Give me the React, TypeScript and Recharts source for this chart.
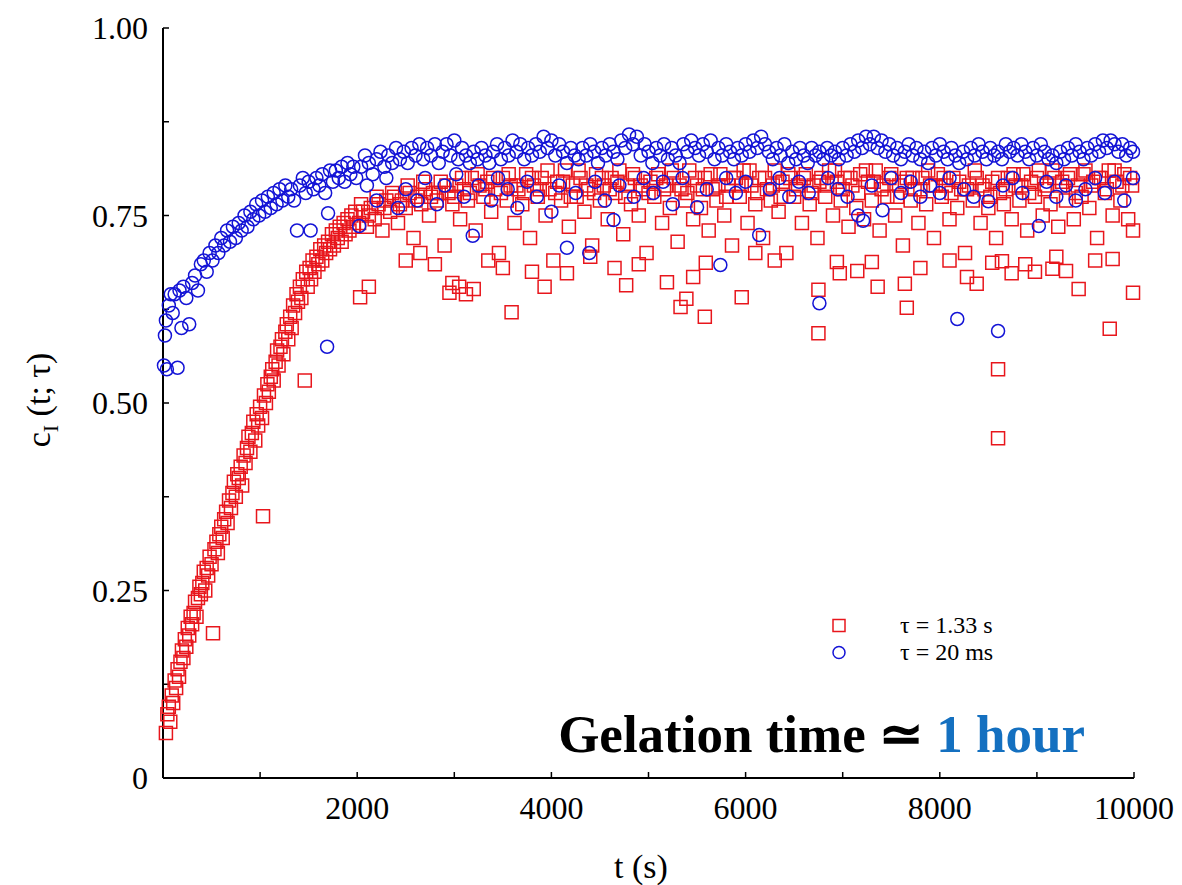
import {
  ScatterChart, Scatter, XAxis, YAxis, Legend, Customized,
} from "recharts";

// ---- data: [t (s), c_I] ----
const redRise: [number, number][] = [
  [30, .06], [45, .085], [60, .095], [75, .075], [90, .11], [105, .1], [120, .13], [135, .12],
  [150, .145], [165, .135], [180, .155], [195, .17], [210, .16], [225, .185], [240, .175], [255, .2],
  [270, .19], [285, .215], [300, .205], [315, .22], [330, .235], [345, .215], [360, .24], [375, .255],
  [390, .245], [405, .26], [420, .275], [435, .25], [450, .28], [465, .27], [480, .295], [500, .285],
  [515, .193], [530, .305], [550, .315], [565, .3], [580, .325], [600, .335], [615, .32], [630, .345],
  [650, .355], [665, .34], [680, .37], [700, .36], [715, .38], [730, .395], [750, .375], [765, .405],
  [780, .4], [800, .415], [815, .39], [830, .43], [850, .42], [865, .44], [880, .455], [900, .435],
  [915, .46], [930, .475], [950, .45], [965, .485], [980, .47], [1000, .495], [1020, .48], [1030, .349],
  [1040, .51], [1060, .5], [1075, .525], [1090, .515], [1110, .535], [1125, .545], [1140, .53], [1160, .555],
  [1175, .57], [1190, .55], [1210, .575], [1225, .585], [1240, .565], [1260, .595], [1275, .605], [1290, .585],
  [1310, .615], [1325, .6], [1340, .63], [1360, .62], [1375, .645], [1390, .635], [1410, .655], [1425, .64],
  [1440, .665], [1460, .53], [1475, .675], [1490, .655], [1510, .68], [1525, .665], [1540, .69], [1560, .675],
  [1580, .695], [1600, .685], [1620, .705], [1640, .69], [1660, .71], [1680, .7], [1700, .715], [1720, .705],
  [1740, .725], [1760, .71], [1780, .73], [1800, .72], [1820, .735], [1840, .715], [1860, .74], [1880, .725],
  [1900, .745], [1920, .73], [1940, .75], [1960, .735], [1980, .755],
];

const redCore: [number, number][] = [
  [2020, .74], [2060, .755], [2100, .735], [2140, .76], [2180, .745], [2220, .765], [2260, .73], [2300, .77],
  [2340, .755], [2380, .775], [2420, .74], [2460, .77], [2500, .76], [2540, .78], [2580, .72], [2620, .775],
  [2660, .765], [2700, .785], [2740, .75], [2780, .78], [2820, .77], [2860, .795], [2900, .71], [2940, .78],
  [2980, .765], [3020, .79], [3060, .745], [3100, .785], [3140, .77], [3180, .8], [3220, .73], [3260, .79],
  [3300, .775], [3340, .795], [3380, .755], [3420, .785], [3460, .7], [3500, .8], [3540, .77], [3580, .79],
  [3620, .74], [3660, .785], [3700, .765], [3740, .805], [3780, .72], [3820, .79], [3860, .775], [3900, .8],
  [3940, .75], [3980, .785], [4020, .69], [4060, .795], [4100, .77], [4140, .81], [4180, .735], [4220, .79],
  [4260, .775], [4300, .8], [4340, .755], [4380, .785], [4420, .71], [4460, .805], [4500, .77], [4540, .79],
  [4580, .745], [4620, .8], [4660, .78], [4700, .81], [4740, .725], [4780, .79], [4820, .765], [4860, .8],
  [4900, .75], [4940, .785], [4980, .7], [5020, .795], [5060, .775], [5100, .805], [5140, .74], [5180, .79],
  [5220, .76], [5260, .8], [5300, .715], [5340, .785], [5380, .77], [5420, .81], [5460, .745], [5500, .79],
  [5540, .76], [5580, .8], [5620, .73], [5660, .785], [5700, .77], [5740, .805], [5780, .75], [5820, .79],
  [5860, .71], [5900, .8], [5940, .775], [5980, .81], [6020, .74], [6060, .79], [6100, .765], [6140, .8],
  [6180, .72], [6220, .785], [6260, .77], [6300, .81], [6340, .755], [6380, .795], [6420, .7], [6460, .8],
  [6500, .775], [6540, .79], [6580, .74], [6620, .805], [6660, .765], [6700, .79], [6740, .72], [6780, .8],
  [6820, .775], [6860, .81], [6900, .75], [6940, .795], [6980, .77], [7020, .8], [7060, .735], [7100, .79],
  [7140, .76], [7180, .805], [7220, .745], [7260, .795], [7300, .77], [7340, .81], [7380, .73], [7420, .79],
  [7460, .775], [7500, .805], [7540, .75], [7580, .79], [7620, .71], [7660, .8], [7700, .77], [7740, .785],
  [7780, .74], [7820, .8], [7860, .765], [7900, .79], [7940, .72], [7980, .805], [8020, .775], [8060, .79],
  [8100, .745], [8140, .8], [8180, .76], [8220, .785], [8260, .7], [8300, .79], [8340, .77], [8380, .8],
  [8420, .74], [8460, .785], [8500, .76], [8540, .795], [8580, .72], [8620, .78], [8660, .765], [8700, .8],
  [8740, .745], [8780, .79], [8820, .77], [8860, .805], [8900, .73], [8940, .795], [8980, .775], [9020, .81],
  [9060, .75], [9100, .79], [9140, .765], [9180, .8], [9220, .735], [9260, .795], [9300, .77], [9340, .805],
  [9380, .745], [9420, .79], [9460, .775], [9500, .81], [9540, .76], [9580, .795], [9620, .72], [9660, .8],
  [9700, .78], [9740, .81], [9780, .75], [9820, .795], [9860, .77], [9900, .805], [9940, .745], [9980, .79],
];

const redCore2: [number, number][] = [
  [2040, .765], [2120, .75], [2200, .775], [2280, .76], [2360, .78], [2440, .765], [2520, .79], [2600, .77],
  [2680, .795], [2760, .775], [2840, .78], [2920, .79], [3000, .775], [3080, .8], [3160, .78], [3240, .805],
  [3320, .785], [3400, .8], [3480, .78], [3560, .805], [3640, .79], [3720, .78], [3800, .8], [3880, .785],
  [3960, .81], [4040, .78], [4120, .795], [4200, .775], [4280, .81], [4360, .79], [4440, .78], [4520, .8],
  [4600, .785], [4680, .795], [4760, .775], [4840, .805], [4920, .79], [5000, .78], [5080, .8], [5160, .785],
  [5240, .81], [5320, .79], [5400, .78], [5480, .8], [5560, .785], [5640, .805], [5720, .79], [5800, .775],
  [5880, .8], [5960, .79], [6040, .81], [6120, .78], [6200, .8], [6280, .79], [6360, .775], [6440, .805],
  [6520, .785], [6600, .8], [6680, .78], [6760, .795], [6840, .79], [6920, .81], [7000, .785], [7080, .8],
  [7160, .78], [7240, .81], [7320, .795], [7400, .785], [7480, .8], [7560, .775], [7640, .795], [7720, .8],
  [7800, .785], [7880, .81], [7960, .79], [8040, .8], [8120, .78], [8200, .795], [8280, .785], [8360, .81],
  [8440, .79], [8520, .775], [8600, .8], [8680, .785], [8760, .805], [8840, .79], [8920, .78], [9000, .8],
  [9080, .785], [9160, .81], [9240, .79], [9320, .8], [9400, .78], [9480, .805], [9560, .79], [9640, .8],
  [9720, .785], [9800, .81], [9880, .79], [9960, .8],
];

const redLow: [number, number][] = [
  [2030, .641], [2120, .655], [2950, .647], [3050, .655], [3120, .645], [3200, .652], [2980, .66], [3590, .621],
  [3930, .655], [4160, .673], [4770, .657], [4650, .68], [5190, .661], [5330, .628], [5390, .639], [5460, .668],
  [5580, .615], [5590, .687], [5960, .641], [6750, .593], [6750, .651], [6940, .688], [6970, .673], [7150, .676],
  [7300, .688], [7360, .655], [7640, .659], [7660, .627], [8280, .668], [8380, .659], [8540, .687], [8640, .689],
  [8600, .545], [8600, .453], [8740, .673], [8880, .685], [8980, .675], [9160, .679], [9300, .676], [9430, .652],
  [9750, .599], [9780, .692], [9990, .647], [9990, .73], [2500, .69], [2650, .7], [2800, .685], [3350, .69],
  [3500, .68], [3800, .675], [4400, .695], [4900, .685], [6100, .7], [6300, .69], [7800, .68], [8100, .69],
  [9200, .695], [9600, .69],
];

const blueRise: [number, number][] = [
  [10, .55], [20, .59], [30, .61], [40, .545], [60, .63], [80, .645], [100, .62], [120, .645],
  [150, .547], [170, .65], [190, .6], [210, .655], [240, .64], [270, .605], [300, .66], [330, .67],
  [360, .65], [390, .685], [420, .69], [450, .675], [480, .7], [510, .69], [540, .71], [570, .7],
  [600, .72], [630, .71], [660, .73], [690, .715], [720, .735], [750, .72], [780, .74], [810, .73],
  [840, .75], [870, .735], [900, .755], [930, .745], [960, .765], [990, .75], [1020, .77], [1050, .755],
  [1080, .775], [1110, .76], [1140, .78], [1170, .765], [1200, .785], [1230, .77], [1260, .79], [1290, .775],
  [1320, .785], [1350, .77], [1380, .73], [1410, .79], [1440, .8], [1470, .78], [1500, .795], [1520, .73],
  [1550, .785], [1580, .8], [1610, .79], [1640, .805], [1670, .78], [1690, .575], [1700, .753], [1720, .81],
  [1750, .795], [1780, .81], [1810, .8], [1840, .815], [1870, .795], [1900, .82], [1930, .805], [1960, .815],
  [1990, .8], [2020, .736],
];

const blueBand: [number, number][] = [
  [2040, .815], [2080, .83], [2120, .82], [2160, .805], [2200, .825], [2240, .835], [2280, .815], [2320, .83],
  [2360, .82], [2400, .84], [2440, .825], [2480, .835], [2520, .82], [2560, .84], [2600, .83], [2640, .845],
  [2680, .825], [2720, .84], [2760, .83], [2800, .845], [2840, .82], [2880, .835], [2920, .845], [2960, .83],
  [3000, .85], [3040, .825], [3080, .84], [3120, .83], [3160, .82], [3200, .835], [3240, .825], [3280, .84],
  [3320, .83], [3360, .82], [3400, .835], [3440, .845], [3480, .825], [3520, .84], [3560, .83], [3600, .85],
  [3640, .835], [3680, .845], [3720, .825], [3760, .84], [3800, .83], [3840, .845], [3880, .835], [3920, .855],
  [3960, .84], [4000, .85], [4040, .83], [4080, .845], [4120, .835], [4160, .82], [4200, .84], [4240, .83],
  [4280, .825], [4320, .84], [4360, .83], [4400, .845], [4440, .835], [4480, .82], [4520, .84], [4560, .83],
  [4600, .845], [4640, .835], [4680, .825], [4720, .85], [4760, .84], [4800, .858], [4840, .845], [4880, .855],
  [4920, .83], [4960, .845], [5000, .835], [5040, .82], [5080, .84], [5120, .83], [5160, .845], [5200, .825],
  [5240, .84], [5280, .83], [5320, .82], [5360, .845], [5400, .835], [5440, .85], [5480, .84], [5520, .83],
  [5560, .845], [5600, .835], [5640, .85], [5680, .825], [5720, .84], [5760, .83], [5800, .845], [5840, .835],
  [5880, .825], [5920, .84], [5960, .83], [6000, .845], [6040, .835], [6080, .85], [6120, .84], [6160, .855],
  [6200, .845], [6240, .835], [6280, .825], [6320, .84], [6360, .83], [6400, .845], [6440, .82], [6480, .835],
  [6520, .825], [6560, .84], [6600, .83], [6640, .82], [6680, .84], [6720, .83], [6760, .835], [6800, .825],
  [6840, .84], [6880, .83], [6920, .835], [6960, .825], [7000, .84], [7040, .83], [7080, .845], [7120, .835],
  [7160, .85], [7200, .84], [7240, .855], [7280, .845], [7320, .855], [7360, .84], [7400, .85], [7440, .835],
  [7480, .845], [7520, .83], [7560, .84], [7600, .825], [7640, .835], [7680, .845], [7720, .83], [7760, .84],
  [7800, .825], [7840, .835], [7880, .82], [7920, .84], [7960, .83], [8000, .845], [8040, .835], [8080, .825],
  [8120, .84], [8160, .83], [8200, .82], [8240, .835], [8280, .825], [8320, .84], [8360, .83], [8400, .845],
  [8440, .835], [8480, .825], [8520, .84], [8560, .83], [8600, .835], [8640, .825], [8680, .845], [8720, .835],
  [8760, .84], [8800, .83], [8840, .845], [8880, .835], [8920, .825], [8960, .84], [9000, .83], [9040, .845],
  [9080, .835], [9120, .825], [9160, .83], [9200, .82], [9240, .835], [9280, .825], [9320, .84], [9360, .83],
  [9400, .845], [9440, .835], [9480, .825], [9520, .84], [9560, .83], [9600, .845], [9640, .835], [9680, .85],
  [9720, .84], [9760, .85], [9800, .845], [9840, .835], [9880, .845], [9920, .83], [9960, .84], [9990, .835],
];

const blueLow: [number, number][] = [
  [2100, .79], [2200, .77], [2300, .8], [2420, .76], [2500, .785], [2620, .77], [2700, .8], [2820, .765],
  [2900, .79], [3020, .805], [3100, .775], [3190, .723], [3250, .79], [3380, .77], [3450, .8], [3550, .785],
  [3650, .76], [3750, .795], [3850, .775], [4000, .755], [4080, .79], [4160, .707], [4250, .78], [4390, .7],
  [4450, .795], [4550, .77], [4640, .744], [4700, .79], [4850, .775], [4950, .8], [5050, .78], [5150, .795],
  [5250, .765], [5350, .8], [5500, .761], [5600, .785], [5740, .684], [5800, .8], [5900, .78], [6000, .795],
  [6140, .724], [6250, .785], [6350, .8], [6450, .775], [6550, .795], [6650, .78], [6760, .633], [6850, .8],
  [6950, .785], [7050, .775], [7160, .75], [7210, .743], [7300, .79], [7410, .757], [7500, .8], [7600, .78],
  [7700, .795], [7800, .775], [7900, .79], [8000, .78], [8100, .8], [8180, .612], [8250, .785], [8350, .775],
  [8500, .769], [8600, .596], [8650, .79], [8750, .8], [8850, .78], [9020, .736], [9100, .795], [9200, .775],
  [9300, .79], [9400, .77], [9500, .785], [9600, .8], [9700, .78], [9800, .795], [9900, .77], [9990, .8],
];

const xTicks = [0, 1000, 2000, 3000, 4000, 5000, 6000, 7000, 8000, 9000, 10000];
const yTicks = [0, 0.125, 0.25, 0.375, 0.5, 0.625, 0.75, 0.875, 1];

const RED = "#e8161c";
const BLUE = "#1414d6";
const FONT = "'Liberation Serif', 'Times New Roman', serif";

const toPts = (arr: [number, number][]) => arr.map(([t, c]) => ({ t, c }));
const redData = toPts([...redRise, ...redCore, ...redCore2, ...redLow]);
const blueData = toPts([...blueRise, ...blueBand, ...blueLow]);

const fmtX = (v: number) => (v !== 0 && v % 2000 === 0 ? String(v) : "");
const fmtY = (v: number) => (v === 0 ? "0" : Math.abs((v / 0.25) % 1) < 1e-9 ? v.toFixed(2) : "");

function SquareMark({ cx, cy }: any) {
  return <rect x={cx - 6.5} y={cy - 6.5} width={13} height={13} fill="none" stroke={RED} strokeWidth={1.5} />;
}
function CircleMark({ cx, cy }: any) {
  return <circle cx={cx} cy={cy} r={6.5} fill="none" stroke={BLUE} strokeWidth={1.5} />;
}

function LegendBox({ payload }: any) {
  return (
    <div style={{ fontFamily: FONT, fontSize: 24, lineHeight: "27px", color: "#000" }}>
      {(payload || []).map((p: any, i: number) => (
        <div key={i} style={{ display: "flex", alignItems: "center" }}>
          <svg width={79} height={27}>
            {i === 0
              ? <rect x={12} y={7.5} width={12} height={12} fill="none" stroke={RED} strokeWidth={1.5} />
              : <circle cx={18} cy={13.5} r={6} fill="none" stroke={BLUE} strokeWidth={1.5} />}
          </svg>
          <span>{p.value}</span>
        </div>
      ))}
    </div>
  );
}

function Texts() {
  return (
    <g fontFamily={FONT}>
      <text x={641} y={878} fontSize={34} textAnchor="middle" fill="#000">t (s)</text>
      <text transform="translate(50, 400) rotate(-90)" fontSize={34} textAnchor="middle" fill="#000">
        c<tspan fontSize={22} dy={8}>I</tspan><tspan dy={-8}> (t; τ)</tspan>
      </text>
      <text x={1085} y={752} fontSize={53} fontWeight="bold" textAnchor="end" fill="#000">
        Gelation time ≃ <tspan fill="#1470c0">1 hour</tspan>
      </text>
    </g>
  );
}

export default function App() {
  const axisLine = { stroke: "#000", strokeWidth: 2 };
  const tickLine = { stroke: "#000", strokeWidth: 1.5 };
  const tickStyle = { fontFamily: FONT, fontSize: 32, fill: "#000" };
  return (
    <div style={{ position: "absolute", left: 0, top: 0, width: 1182, height: 885, background: "#fff" }}>
      <ScatterChart width={1182} height={885} margin={{ top: 28, right: 48, bottom: 27, left: 63 }}>
        <XAxis
          type="number" dataKey="t" domain={[0, 10000]} ticks={xTicks} tickFormatter={fmtX}
          height={80} tickSize={-6} tickMargin={24} axisLine={axisLine} tickLine={tickLine} tick={tickStyle}
          interval={0}
        />
        <XAxis
          xAxisId="top" orientation="top" type="number" dataKey="t" domain={[0, 10000]} ticks={xTicks}
          tickFormatter={() => ""} height={0} tickSize={-6} axisLine={axisLine} tickLine={tickLine} interval={0}
        />
        <YAxis
          type="number" dataKey="c" domain={[0, 1]} ticks={yTicks} tickFormatter={fmtY}
          width={100} tickSize={-6} tickMargin={21} axisLine={axisLine} tickLine={tickLine} tick={tickStyle}
          interval={0}
        />
        <YAxis
          yAxisId="right" orientation="right" type="number" dataKey="c" domain={[0, 1]} ticks={yTicks}
          tickFormatter={() => ""} width={0} tickSize={-6} axisLine={axisLine} tickLine={tickLine} interval={0}
        />
        <Scatter name="τ = 1.33 s" data={redData} shape={<SquareMark />} fill={RED} isAnimationActive={false} />
        <Scatter name="τ = 20 ms" data={blueData} shape={<CircleMark />} fill={BLUE} isAnimationActive={false} />
        <Legend
          layout="vertical" align="center" verticalAlign="middle" content={<LegendBox />}
          wrapperStyle={{ left: 821, top: 612, width: 240 }}
        />
        <Customized component={<Texts />} />
      </ScatterChart>
    </div>
  );
}
